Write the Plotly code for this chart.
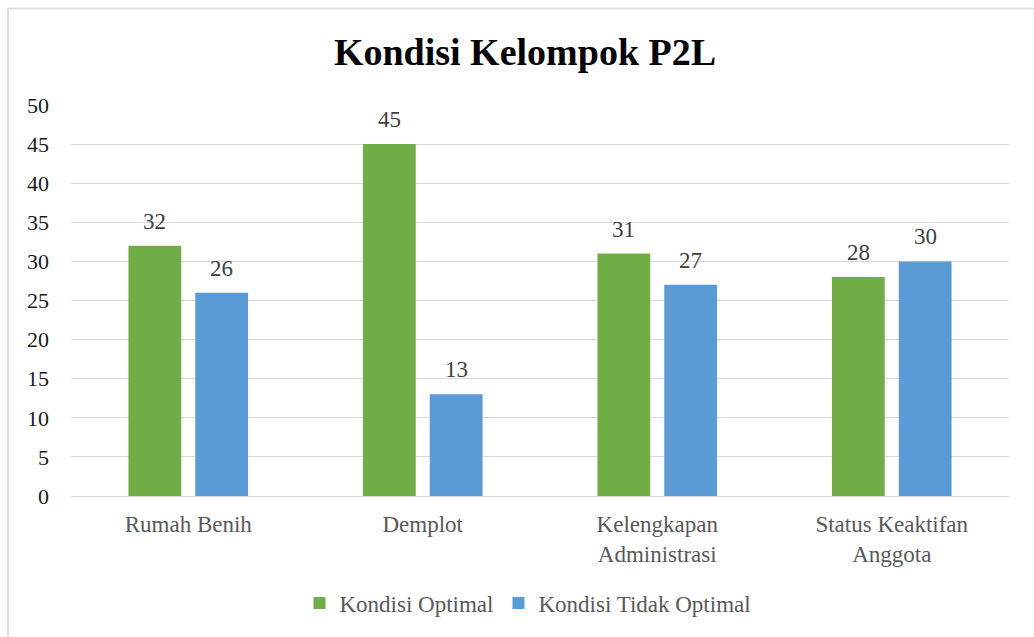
import plotly.graph_objects as go

categories = ["Rumah Benih", "Demplot", "Kelengkapan<br>Administrasi", "Status Keaktifan<br>Anggota"]
optimal = [32, 45, 31, 28]
tidak_optimal = [26, 13, 27, 30]
series_names = ["Kondisi Optimal", "Kondisi Tidak Optimal"]
y_ticks = [0, 5, 10, 15, 20, 25, 30, 35, 40, 45, 50]

FONT = "Liberation Serif, Times New Roman, serif"

fig = go.Figure()
fig.add_trace(go.Bar(
    x=categories, y=optimal, name=series_names[0],
    marker=dict(color="#70AD47", line=dict(width=0)),
))
fig.add_trace(go.Bar(
    x=categories, y=tidak_optimal, name=series_names[1],
    marker=dict(color="#5B9BD5", line=dict(width=0)),
))

# value labels above the bars
for vals, dx in ((optimal, -33.5), (tidak_optimal, 33.5)):
    for c, v in zip(categories, vals):
        fig.add_annotation(x=c, y=v, xref="x", yref="y", text=str(v), showarrow=False,
                           xshift=dx, yshift=10, yanchor="bottom",
                           font=dict(family=FONT, size=23, color="#404040"))

L, R, T, B = 71, 25, 105, 141
W, H = 1034, 637
pw = W - L - R
ph = H - T - B

fig.update_layout(
    width=W, height=H,
    margin=dict(l=L, r=R, t=T, b=B),
    paper_bgcolor="white", plot_bgcolor="white",
    barmode="group", bargap=0.43, bargroupgap=0.21,
    title=dict(text="<b>Kondisi Kelompok P2L</b>", x=525 / W, xref="container",
               xanchor="center", y=1 - 52 / H, yref="container", yanchor="middle",
               font=dict(family=FONT, size=38, color="#000000")),
    font=dict(family=FONT, size=23, color="#595959"),
    showlegend=True,
    legend=dict(orientation="h", x=(528 - L) / pw, xanchor="center",
                y=-(603 - (T + ph)) / ph, yanchor="middle",
                font=dict(family=FONT, size=23, color="#595959"),
                itemwidth=30, traceorder="normal", tracegroupgap=0),
    xaxis=dict(showgrid=False, showline=True, linecolor="#D9D9D9", linewidth=1,
               ticks="", ticklabelstandoff=7,
               tickfont=dict(family=FONT, size=23, color="#595959")),
    yaxis=dict(range=[0, 50], tickvals=y_ticks, showgrid=True, gridcolor="#D9D9D9",
               gridwidth=1, zeroline=False, showline=False, ticks="",
               tickfont=dict(family=FONT, size=22, color="#1a1a1a"), ticklabelstandoff=21),
    shapes=[dict(type="rect", xref="paper", yref="paper",
                 x0=(8 - L) / pw, x1=(W + 5 - L) / pw,
                 y0=-(H + 5 - (T + ph)) / ph, y1=1 + (T - 8.5) / ph,
                 line=dict(color="#D9D9D9", width=1.5), fillcolor="rgba(0,0,0,0)", layer="below")],
)

fig.write_html("out.html", config={"displayModeBar": False},
               post_script="document.body.style.margin='0';")
